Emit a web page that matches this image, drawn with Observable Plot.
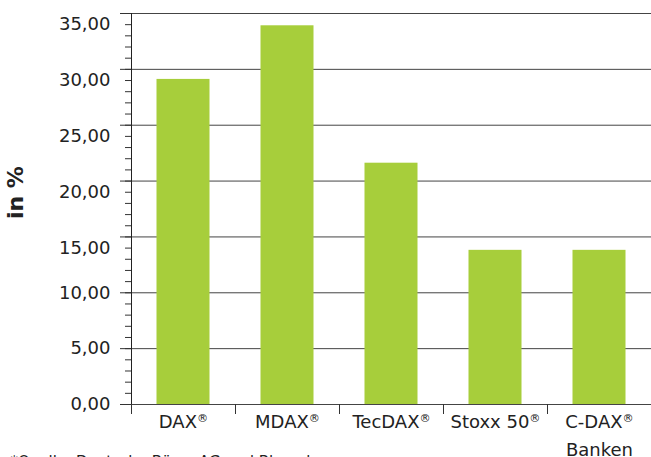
<!DOCTYPE html>
<html>
<head>
<meta charset="utf-8">
<script src="https://cdn.jsdelivr.net/npm/d3@7"></script>
<script src="https://cdn.jsdelivr.net/npm/@observablehq/plot@0.6"></script>
<style>
  html, body { margin: 0; padding: 0; background: #fff; }
  svg { display: block; }
</style>
</head>
<body>
<div id="chart"></div>
<script>
const categories = ["DAX®", "MDAX®", "TecDAX®", "Stoxx 50®", "C-DAX®\nBanken"];
const values = [29.1, 33.9, 21.6, 13.8, 13.8];
const yTicks = [0, 5, 10, 15, 20, 25, 30, 35];
const yTicksLow = [0, 5, 10];
const yTicksHigh = [15, 20, 25, 30, 35];
const yMinorTicks = d3.range(0, 36, 1);
const yLabel = "in %";
const footnote = "*Quelle: Deutsche Börse AG und Bloomberg";

const data = categories.map((c, i) => ({ name: c, i, value: values[i] }));

const fmt = d => d.toFixed(2).replace(".", ",");
const labelStyle = { frameAnchor: "left", textAnchor: "end", dx: -21, fontSize: 18, fill: "#222", text: fmt, y: d => d };

const chart = Plot.plot({
  width: 651,
  height: 457,
  marginTop: 13,
  marginBottom: 53,
  marginLeft: 131,
  marginRight: 0,
  style: { fontFamily: "'DejaVu Sans', Verdana, sans-serif", color: "#222", background: "#fff" },
  x: { type: "linear", domain: [0, 5], axis: null },
  y: { domain: [0, 35], axis: null },
  marks: [
    Plot.gridY(yTicks, { stroke: "#444", strokeOpacity: 1, strokeWidth: 1 }),
    Plot.rectY(data, { x1: "i", x2: d => d.i + 1, y: "value", fill: "#a7ce3b", insetLeft: 25.5, insetRight: 25.5 }),
    Plot.axisY({ ticks: yMinorTicks, tickSize: 6, tickFormat: () => "", stroke: "#333", label: null }),
    Plot.axisY({ ticks: yTicks, tickSize: 11, tickFormat: () => "", stroke: "#333", label: null }),
    Plot.text(yTicksLow, { ...labelStyle, dy: 0 }),
    Plot.text(yTicksHigh, { ...labelStyle, dy: 11 }),
    Plot.axisX({ ticks: [0, 1, 2, 3, 4], tickSize: 10, tickFormat: () => "", stroke: "#333", label: null }),
    Plot.ruleX([0], { y1: 0, y2: 35, stroke: "#222" }),
    Plot.text(data, { x: d => d.i + 0.5, y: 0, text: "name", lineAnchor: "top", dy: 4, fontSize: 18, lineHeight: 1.55, fill: "#222" }),
    Plot.text([yLabel], { frameAnchor: "left", rotate: -90, dx: -116, dy: 10, fontSize: 22, fontWeight: "bold", fill: "#222" }),
    Plot.text([footnote], { frameAnchor: "bottom-left", dx: -121, dy: 52, lineAnchor: "top", textAnchor: "start", fontSize: 15, fill: "#222" })
  ]
});

// Render ® as superscript
chart.querySelectorAll("text, tspan").forEach(el => {
  if (el.children.length === 0 && el.textContent.includes("®")) {
    const parts = el.textContent.split("®");
    el.textContent = "";
    parts.forEach((p, k) => {
      if (p) el.appendChild(document.createTextNode(p));
      if (k < parts.length - 1) {
        const t = document.createElementNS("http://www.w3.org/2000/svg", "tspan");
        t.setAttribute("font-size", "0.62em");
        t.setAttribute("baseline-shift", "super");
        t.textContent = "®";
        el.appendChild(t);
      }
    });
  }
});

document.getElementById("chart").appendChild(chart);
</script>
</body>
</html>
